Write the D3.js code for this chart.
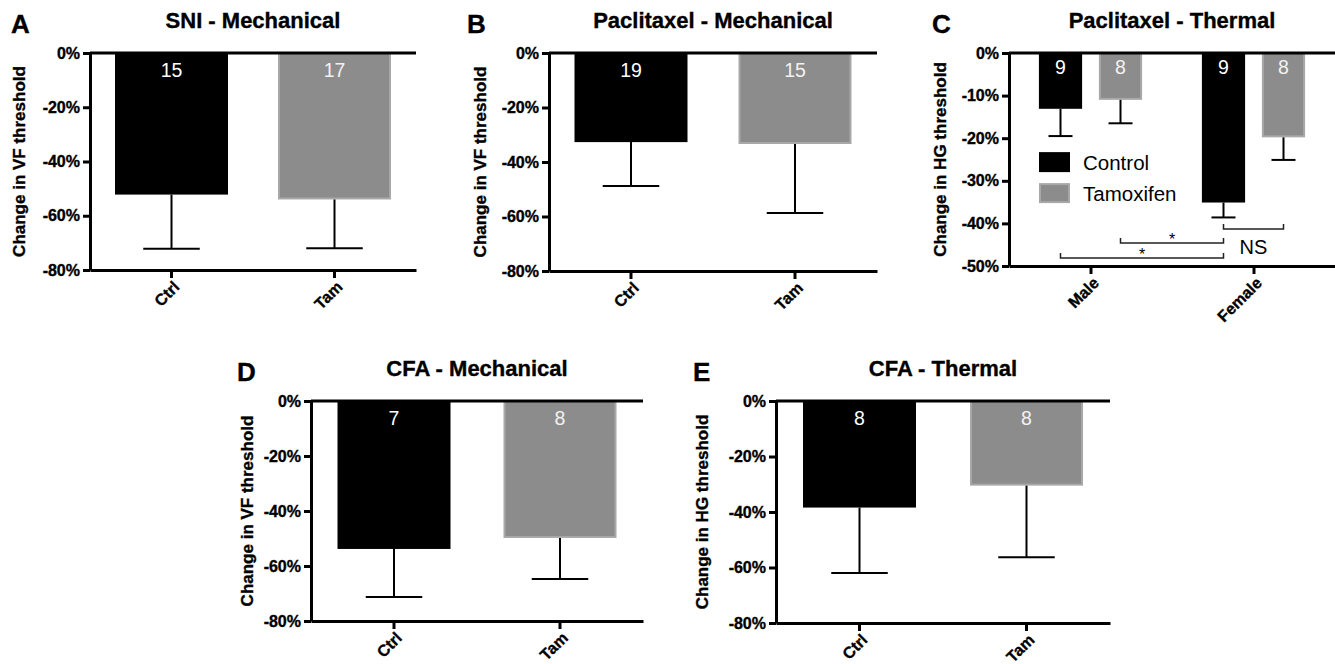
<!DOCTYPE html>
<html>
<head>
<meta charset="utf-8">
<script src="https://cdn.jsdelivr.net/npm/d3@7"></script>
<style>
  html, body { margin: 0; padding: 0; background: #fff; }
  svg { display: block; font-family: "Liberation Sans", Arial, sans-serif; }
</style>
</head>
<body>
<svg id="chart" width="1335" height="664"></svg>
<script>
// ---------------- DATA ----------------
const groups = ["Ctrl", "Tam"];

const sniMean = [-52.2, -54.0];
const sniErr = [20.0, 18.0];
const sniN = [15, 17];

const pacMechMean = [-32.7, -33.4];
const pacMechErr = [16.1, 25.3];
const pacMechN = [19, 15];

const cfaMechMean = [-53.8, -49.8];
const cfaMechErr = [17.5, 14.9];
const cfaMechN = [7, 8];

const cfaThermMean = [-38.4, -30.5];
const cfaThermErr = [23.6, 25.8];
const cfaThermN = [8, 8];

const sexes = ["Male", "Female"];
const treatments = ["Control", "Tamoxifen"];
const pacThermControlMean = [-13.1, -35.1];
const pacThermControlErr = [6.4, 3.5];
const pacThermControlN = [9, 9];
const pacThermTamMean = [-11.0, -19.8];
const pacThermTamErr = [5.5, 5.3];
const pacThermTamN = [8, 8];

// significance comparisons in panel C
const sigFrom = [["Male", "Tamoxifen"], ["Male", "Control"], ["Female", "Control"]];
const sigTo = [["Female", "Control"], ["Female", "Control"], ["Female", "Tamoxifen"]];
const sigLevel = [-44.6, -48.1, -41.3];
const sigLabel = ["*", "*", "NS"];

const ticks80 = [0, -20, -40, -60, -80];
const ticks50 = [0, -10, -20, -30, -40, -50];

// ---------------- DRAWING ----------------
const svg = d3.select("#chart");
const FONT = '"Liberation Sans", Arial, sans-serif';
const BLACK = "#000";
const GRAY = "#8c8c8c";
const GRAY_EDGE = "#a8a8a8";

function boldText(sel) {
  return sel.attr("font-weight", "bold").attr("font-family", FONT).attr("fill", BLACK)
    .attr("stroke", BLACK).attr("stroke-width", 0.35);
}

function frame(g, p, y, ticks, xScale) {
  const ya = g.append("g").attr("transform", `translate(${p.left},0)`)
    .call(d3.axisLeft(y).tickValues(ticks).tickFormat(d => d + "%").tickSize(7).tickSizeOuter(0).tickPadding(3));
  ya.select(".domain").attr("stroke-width", 3).attr("stroke", BLACK);
  ya.selectAll(".tick line").attr("stroke-width", 3).attr("stroke", BLACK);
  boldText(ya.selectAll(".tick text").attr("font-size", 16));

  const xa = g.append("g").attr("transform", `translate(0,${y(p.ymin)})`)
    .call(d3.axisBottom(xScale).tickSize(8).tickSizeOuter(0));
  xa.select(".domain").attr("stroke-width", 3).attr("stroke", BLACK);
  xa.selectAll(".tick line").attr("stroke-width", 3).attr("stroke", BLACK);
  boldText(xa.selectAll(".tick text").attr("font-size", 16))
    .attr("text-anchor", "end").attr("x", 0).attr("y", 0).attr("dy", "0.35em")
    .attr("transform", "translate(5,14) rotate(-45)");

  boldText(g.append("text").attr("x", (p.left + p.right) / 2).attr("y", p.titleY)
    .attr("text-anchor", "middle").attr("font-size", 22)).text(p.title);
  boldText(g.append("text").attr("x", p.letterX).attr("y", p.titleY + 5)
    .attr("font-size", 26)).text(p.letter);
  boldText(g.append("text").attr("transform", `translate(${p.ylabX},${(y(0) + y(p.ymin)) / 2}) rotate(-90)`)
    .attr("text-anchor", "middle").attr("dominant-baseline", "central")
    .attr("font-size", 17)).text(p.ylabel);
}

function topLine(g, p, y) {
  g.append("line").attr("x1", p.left).attr("x2", p.right).attr("y1", y(0)).attr("y2", y(0))
    .attr("stroke", BLACK).attr("stroke-width", 3);
}

function bar(g, x0, w, y, mean, err, n, color, labelOffset) {
  const gray = color !== BLACK;
  g.append("rect").attr("x", x0 + (gray ? 1 : 0)).attr("y", y(0))
    .attr("width", w - (gray ? 2 : 0)).attr("height", y(mean) - y(0) - (gray ? 1 : 0))
    .attr("fill", color)
    .attr("stroke", gray ? GRAY_EDGE : "none").attr("stroke-width", gray ? 2 : 0);
  const cx = x0 + w / 2;
  g.append("line").attr("x1", cx).attr("x2", cx).attr("y1", y(mean)).attr("y2", y(mean - err))
    .attr("stroke", BLACK).attr("stroke-width", 2);
  const cap = Math.max(w * 0.25, 12);
  g.append("line").attr("x1", cx - cap).attr("x2", cx + cap).attr("y1", y(mean - err)).attr("y2", y(mean - err))
    .attr("stroke", BLACK).attr("stroke-width", 2);
  g.append("text").attr("x", cx).attr("y", y(0) + labelOffset).attr("text-anchor", "middle")
    .attr("font-size", 19.5).attr("font-family", FONT).attr("fill", gray ? "#f2f2f2" : "#fff").text(n);
}

function simplePanel(p, means, errs, ns) {
  const g = svg.append("g");
  const y = d3.scaleLinear().domain([p.ymin, 0]).range([p.bottom, p.top]);
  const pad = 1 - 113 / ((p.right - p.left) / 2);
  const x = d3.scaleBand().domain(groups).range([p.left, p.right]).paddingInner(pad).paddingOuter(pad / 2);
  groups.forEach((c, i) => {
    bar(g, x(c), x.bandwidth(), y, means[i], errs[i], ns[i], i === 0 ? BLACK : GRAY, 24);
  });
  topLine(g, p, y);
  frame(g, p, y, ticks80, x);
}

simplePanel({ left: 90, right: 416, top: 53, bottom: 270, ymin: -80, title: "SNI - Mechanical", letter: "A",
  letterX: 11, titleY: 28, ylabX: 19, ylabel: "Change in VF threshold" }, sniMean, sniErr, sniN);
simplePanel({ left: 549, right: 877, top: 53, bottom: 271, ymin: -80, title: "Paclitaxel - Mechanical", letter: "B",
  letterX: 467, titleY: 28, ylabX: 480, ylabel: "Change in VF threshold" }, pacMechMean, pacMechErr, pacMechN);
simplePanel({ left: 311, right: 643, top: 401, bottom: 621, ymin: -80, title: "CFA - Mechanical", letter: "D",
  letterX: 237, titleY: 376, ylabX: 247, ylabel: "Change in VF threshold" }, cfaMechMean, cfaMechErr, cfaMechN);
simplePanel({ left: 776, right: 1110, top: 401, bottom: 623, ymin: -80, title: "CFA - Thermal", letter: "E",
  letterX: 693, titleY: 376, ylabX: 702, ylabel: "Change in HG threshold" }, cfaThermMean, cfaThermErr, cfaThermN);

// Panel C (grouped)
(function () {
  const p = { left: 1009, right: 1335, top: 53, bottom: 266, ymin: -50, title: "Paclitaxel - Thermal", letter: "C",
    letterX: 932, titleY: 28, ylabX: 940, ylabel: "Change in HG threshold" };
  const g = svg.append("g");
  const y = d3.scaleLinear().domain([p.ymin, 0]).range([p.bottom, p.top]);
  const x = d3.scalePoint().domain(sexes).range([p.left, p.right]).padding(0.5);
  const xs = d3.scaleBand().domain(treatments).range([-60, 60]).paddingInner(0.28).paddingOuter(0.14);
  const means = { Control: pacThermControlMean, Tamoxifen: pacThermTamMean };
  const errs = { Control: pacThermControlErr, Tamoxifen: pacThermTamErr };
  const ns = { Control: pacThermControlN, Tamoxifen: pacThermTamN };
  sexes.forEach((s, i) => {
    treatments.forEach((t, j) => {
      bar(g, x(s) + xs(t), xs.bandwidth(), y, means[t][i], errs[t][i], ns[t][i], j === 0 ? BLACK : GRAY, 21);
    });
  });
  topLine(g, p, y);
  frame(g, p, y, ticks50, x);

  // legend
  const lg = g.append("g");
  treatments.forEach((t, j) => {
    const ly = y(-23.5) + j * 31;
    lg.append("rect").attr("x", 1040).attr("y", ly).attr("width", 29).attr("height", 18)
      .attr("fill", j === 0 ? BLACK : GRAY).attr("stroke", j === 0 ? BLACK : GRAY_EDGE).attr("stroke-width", 2);
    lg.append("text").attr("x", 1083).attr("y", ly + 9).attr("dominant-baseline", "central")
      .attr("font-size", 20.5).attr("font-family", FONT).text(t);
  });

  // significance brackets
  sigFrom.forEach((f, k) => {
    const t = sigTo[k];
    const x1 = x(f[0]) + xs(f[1]) + xs.bandwidth() / 2;
    const x2 = x(t[0]) + xs(t[1]) + xs.bandwidth() / 2;
    const yl = y(sigLevel[k]);
    g.append("path").attr("d", `M${x1},${yl - 5}V${yl}H${x2}V${yl - 5}`)
      .attr("fill", "none").attr("stroke", "#222").attr("stroke-width", 1.5);
    if (sigLabel[k] === "NS") {
      g.append("text").attr("x", (x1 + x2) / 2).attr("y", yl + 25).attr("text-anchor", "middle")
        .attr("font-size", 20).attr("font-family", FONT).text(sigLabel[k]);
    } else {
      g.append("text").attr("x", (x1 + x2) / 2).attr("y", yl + 2).attr("text-anchor", "middle")
        .attr("font-size", 16).attr("font-family", FONT).text(sigLabel[k]);
    }
  });
})();
</script>
</body>
</html>
